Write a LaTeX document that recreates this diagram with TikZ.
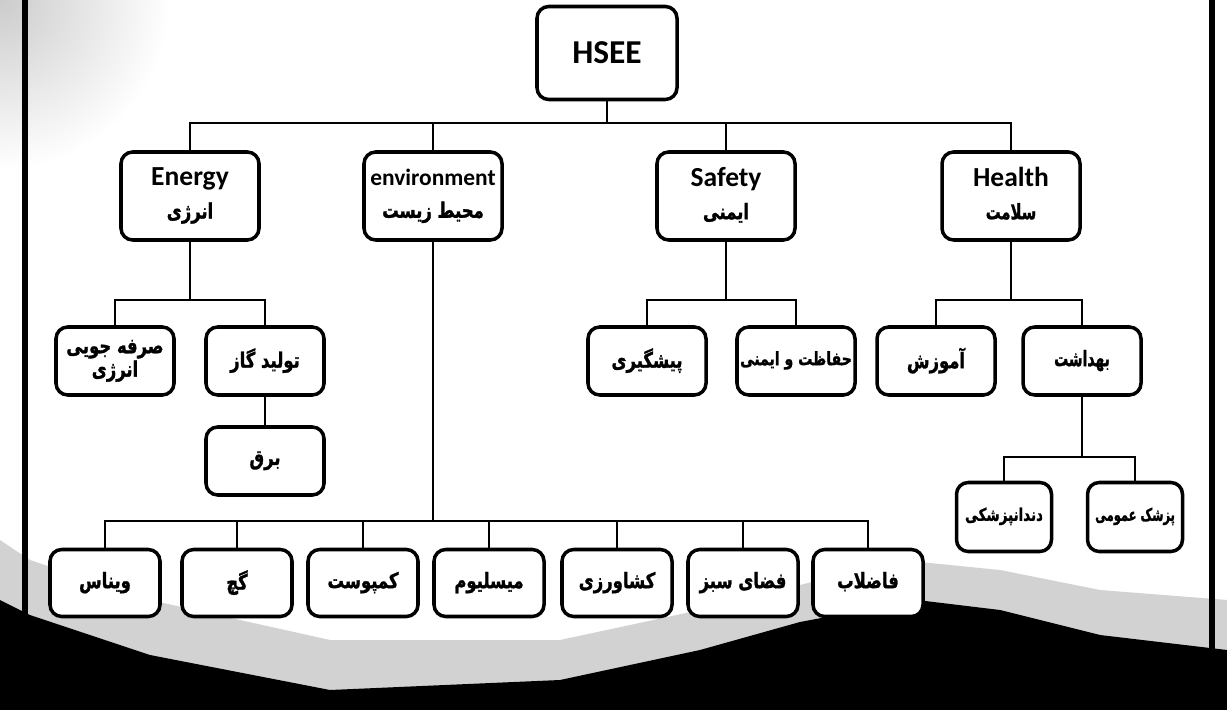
\documentclass[tikz,border=0pt]{standalone}
\usepackage{graphicx}
\usepackage{fontspec}
\setmainfont{Carlito}
\newfontfamily\fafont[Script=Arabic, BoldFeatures={FakeBold=1.5}]{DejaVu Sans}
\TeXXeTstate=1
\usetikzlibrary{positioning}
\newcommand{\fa}[2][1]{\scalebox{#1}[1.3]{\fafont\bfseries\beginR #2\endR}\strut}

\begin{document}
\begin{tikzpicture}[x=0.03cm, y=-0.03cm,
  box/.style={draw, line width=3pt, rounded corners=10pt, fill=white, align=center, inner sep=1pt},
  root/.style={box, minimum width=4.2cm, minimum height=2.79cm, font=\fontsize{28.5}{32}\selectfont\bfseries},
  branch/.style={box, minimum width=4.14cm, minimum height=2.64cm, font=\fontsize{23.5}{26}\selectfont\bfseries},
  sub/.style={box, minimum width=3.54cm, minimum height=2.04cm, font=\fontsize{14}{17}\selectfont},
  twig/.style={box, minimum width=2.85cm, minimum height=2.07cm, font=\fontsize{11.5}{16}\selectfont},
  leaf/.style={box, minimum width=3.3cm, minimum height=2.01cm, font=\fontsize{14}{17}\selectfont},
  link/.style={line width=2pt}]

\useasboundingbox (0,0) rectangle (1227,710);
\fill[white] (0,0) rectangle (1227,710);

% Fond scanne
\shade[inner color=gray!40, outer color=white] (0,0) circle (170);
\fill[gray!35] (0,540) -- (30,560) -- (150,600) -- (330,640) -- (560,640) -- (700,610)
  -- (800,585) -- (900,560) -- (1000,570) -- (1100,590) -- (1227,600) -- (1227,710) -- (0,710) -- cycle;
\fill[black] (0,600) -- (30,615) -- (150,655) -- (330,690) -- (560,680) -- (700,650)
  -- (800,622) -- (917,600) -- (1000,610) -- (1100,635) -- (1227,650) -- (1227,710) -- (0,710) -- cycle;
\draw[line width=5pt] (25,0) -- (25,650);
\draw[line width=4.5pt] (1212,0) -- (1212,650);

% Barres
\coordinate (busA) at (0,123);
\coordinate (busE) at (0,300);
\coordinate (busH) at (0,457);
\coordinate (busV) at (0,521);

% Racine
\node[root] (hsee) at (607,53) {HSEE};

% Niveau 1
\node[branch] (energy) at (190,196) {Energy\\[2pt]\fontsize{14}{16}\selectfont\fa{انرژی}};
\node[branch, font=\fontsize{20}{24}\selectfont\bfseries] (env) at (433,196) {environment\\[4pt]\fontsize{14}{16}\selectfont\fa{محیط زیست}};
\node[branch] (safety) at (726,196) {Safety\\[2pt]\fontsize{14}{16}\selectfont\fa{ایمنی}};
\node[branch] (health) at (1011,196) {Health\\[2pt]\fontsize{14}{16}\selectfont\fa[0.9]{سلامت}};

% Energie
\node[sub] (saving) at (115,361) {\fa{صرفه جویی}\\\fa{انرژی}};
\node[sub] (gas) at (265,361) {\fa{تولید گاز}};
\node[sub] (elec) at (265,461) {\fa{برق}};

% Securite
\node[sub] (prevent) at (647,361) {\fa{پیشگیری}};
\node[sub, font=\fontsize{12}{16}\selectfont] (protect) at (796,361) {\fa{حفاظت و ایمنی}};

% Sante
\node[sub] (edu) at (936,361) {\fa{آموزش}};
\node[sub] (hyg) at (1082,361) {\fa[0.85]{بهداشت}};
\node[twig] (dent) at (1004,517) {\fa{دندانپزشکی}};
\node[twig] (gp) at (1135,517) {\fa[0.85]{پزشک عمومی}};

% Environnement
\foreach \x/\t [count=\i] in {105/ویناس, 237/گچ, 363/کمپوست, 489/میسلیوم, 617/کشاورزی, 743/فضای سبز, 868/فاضلاب} {
    \node[leaf] (k\i) at (\x,583) {\fa{\t}};
}

% Liens
\draw[link] (hsee.south) -- (hsee.south |- busA);
\draw[link] (energy.north) |- (health.north |- busA) -- (health.north);
\draw[link] (env.north) -- (env.north |- busA);
\draw[link] (safety.north) -- (safety.north |- busA);

\draw[link] (energy.south) -- (energy.south |- busE);
\draw[link] (saving.north) |- (gas.north |- busE) -- (gas.north);
\draw[link] (gas) -- (elec);

\draw[link] (safety.south) -- (safety.south |- busE);
\draw[link] (prevent.north) |- (protect.north |- busE) -- (protect.north);

\draw[link] (health.south) -- (health.south |- busE);
\draw[link] (edu.north) |- (hyg.north |- busE) -- (hyg.north);
\draw[link] (hyg.south) -- (hyg.south |- busH);
\draw[link] (dent.north) |- (gp.north |- busH) -- (gp.north);

\draw[link] (env.south) -- (env.south |- busV);
\draw[link] (k1.north) |- (k7.north |- busV) -- (k7.north);
\foreach \i in {2,...,6} {
    \draw[link] (k\i.north) -- (k\i.north |- busV);
}

\end{tikzpicture}
\end{document}
